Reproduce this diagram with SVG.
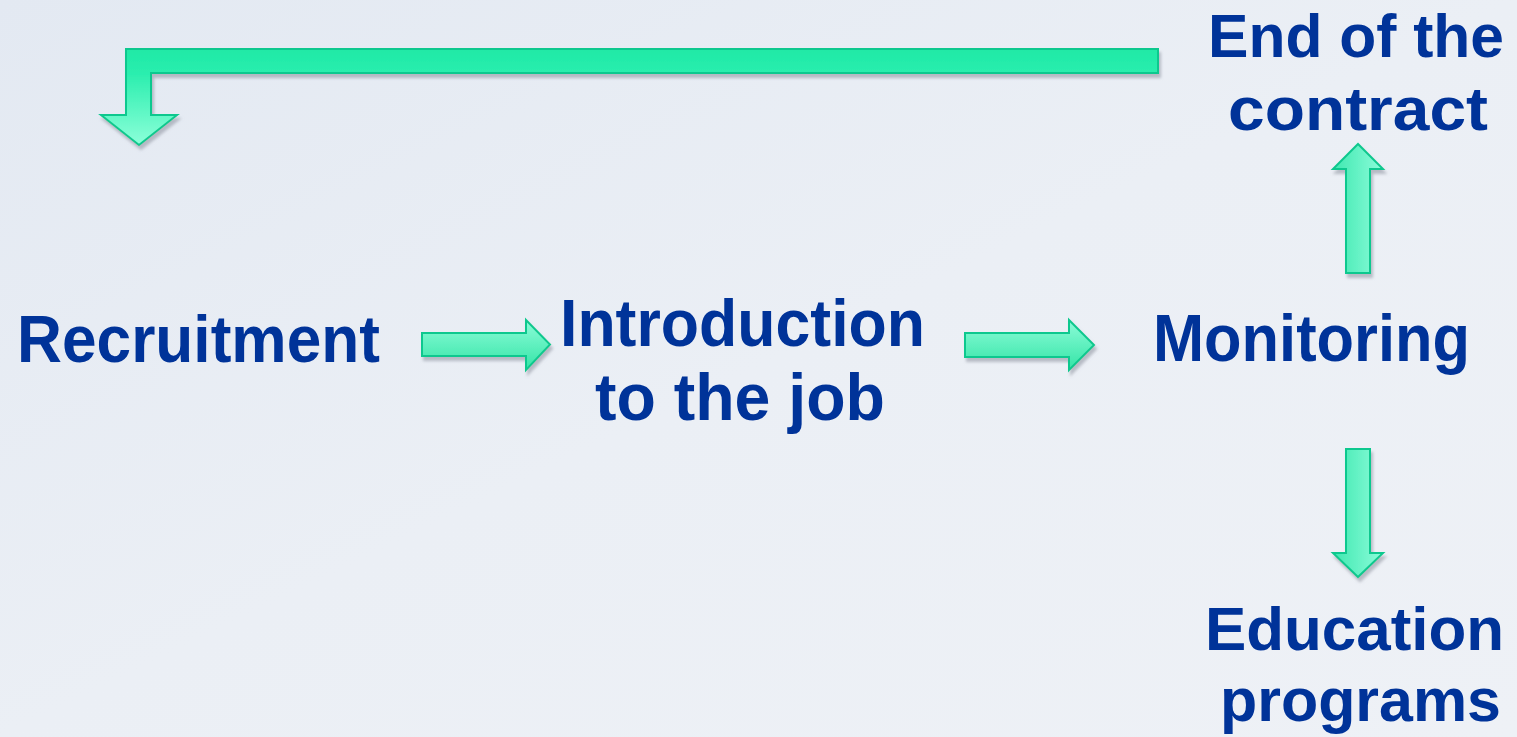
<svg xmlns="http://www.w3.org/2000/svg" width="1517" height="737" viewBox="0 0 1517 737">
  <defs>
    <linearGradient id="bg" x1="0" y1="0" x2="1" y2="1">
      <stop offset="0" stop-color="#e3e9f2"/>
      <stop offset="0.5" stop-color="#ebeff5"/>
      <stop offset="1" stop-color="#eef1f6"/>
    </linearGradient>
    <linearGradient id="gDownBent" x1="0" y1="0" x2="0" y2="1">
      <stop offset="0" stop-color="#1fe9a6"/>
      <stop offset="0.25" stop-color="#2aeeae"/>
      <stop offset="1" stop-color="#8cffd9"/>
    </linearGradient>
    <linearGradient id="gH" x1="0" y1="0" x2="0" y2="1">
      <stop offset="0" stop-color="#8cfcd8"/>
      <stop offset="1" stop-color="#34e4a6"/>
    </linearGradient>
    <linearGradient id="gV" x1="0" y1="0" x2="1" y2="0">
      <stop offset="0" stop-color="#3fe8b0"/>
      <stop offset="1" stop-color="#8cfcda"/>
    </linearGradient>
    <filter id="sh" x="-10%" y="-20%" width="130%" height="150%">
      <feDropShadow dx="2" dy="4" stdDeviation="1.5" flood-color="#8a909c" flood-opacity="0.55"/>
    </filter>
    <style>
      .arrow { stroke: #10c88e; stroke-width: 2; stroke-linejoin: miter; filter: url(#sh); }
      .lbl { font-family: "Liberation Sans", Arial, sans-serif; font-weight: bold; font-size: 66px; fill: #003399; }
      .lbl.r { font-size: 62px; }
    </style>
  </defs>

  <rect x="0" y="0" width="1517" height="737" fill="url(#bg)"/>

  <g id="connectors">
    <path class="arrow" fill="url(#gDownBent)" d="M1158,49 L126,49 L126,115 L101,115 L139,145 L177,115 L151,115 L151,73 L1158,73 Z"/>
    <path class="arrow" fill="url(#gH)" d="M422,333 L526,333 L526,320 L550,344.5 L526,370 L526,356 L422,356 Z"/>
    <path class="arrow" fill="url(#gH)" d="M965,333 L1069,333 L1069,320 L1094,345 L1069,370 L1069,357 L965,357 Z"/>
    <path class="arrow" fill="url(#gV)" d="M1346,273 L1346,169 L1333,169 L1358,144 L1383,169 L1370,169 L1370,273 Z"/>
    <path class="arrow" fill="url(#gV)" d="M1346,449 L1346,553 L1333,553 L1358,577 L1383,553 L1370,553 L1370,449 Z"/>
  </g>

  <g id="node-recruitment">
    <text class="lbl" x="17" y="362" textLength="363" lengthAdjust="spacingAndGlyphs">Recruitment</text>
  </g>
  <g id="node-introduction">
    <text class="lbl" x="560" y="346" textLength="365" lengthAdjust="spacingAndGlyphs">Introduction</text>
    <text class="lbl" x="595" y="420" textLength="290" lengthAdjust="spacingAndGlyphs">to the job</text>
  </g>
  <g id="node-monitoring">
    <text class="lbl" x="1153" y="361" textLength="317" lengthAdjust="spacingAndGlyphs">Monitoring</text>
  </g>
  <g id="node-end">
    <text class="lbl r" x="1208" y="57" textLength="296" lengthAdjust="spacingAndGlyphs">End of the</text>
    <text class="lbl r" x="1228" y="130" textLength="260" lengthAdjust="spacingAndGlyphs">contract</text>
  </g>
  <g id="node-education">
    <text class="lbl r" x="1205" y="650" textLength="299" lengthAdjust="spacingAndGlyphs">Education</text>
    <text class="lbl r" x="1220" y="721" textLength="281" lengthAdjust="spacingAndGlyphs">programs</text>
  </g>
</svg>
